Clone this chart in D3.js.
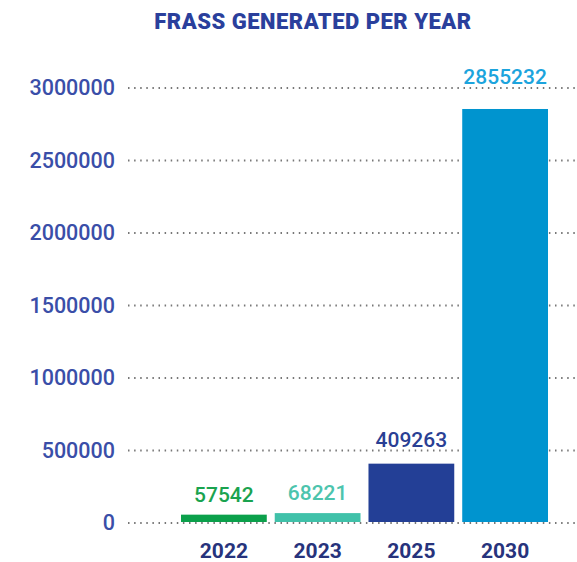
<!DOCTYPE html>
<html>
<head>
<meta charset="utf-8">
<script src="https://cdn.jsdelivr.net/npm/d3@7"></script>
<style>
  body { margin: 0; background: #ffffff; }
  text { font-family: Roboto, "Noto Sans", sans-serif; }
</style>
</head>
<body>
<div id="chart"></div>
<script>
// Data
var years = ["2022", "2023", "2025", "2030"];
var frass = [57542, 68221, 409263, 2855232];
var barColors = ["#0ba04b", "#40c1a9", "#233f96", "#0094cf"];
var labelColors = ["#1aa34f", "#4cc4ad", "#2a3f94", "#1ca4dd"];
var tickValues = [0, 500000, 1000000, 1500000, 2000000, 2500000, 3000000];

var svgWidth = 577;
var svgHeight = 562;

var svg = d3.select("#chart").append("svg")
  .attr("width", svgWidth)
  .attr("height", svgHeight);

// Scales
var xBandScale = d3.scaleBand()
  .domain(years)
  .range([181, 548])
  .paddingInner(0.085)
  .paddingOuter(0);

var yLinearScale = d3.scaleLinear()
  .domain([0, 3000000])
  .range([523, 88]);

// Title
svg.append("text")
  .attr("x", 313)
  .attr("y", 29)
  .attr("text-anchor", "middle")
  .style("font-size", "22px")
  .style("font-weight", 900)
  .style("letter-spacing", "0.5px")
  .style("fill", "#2a3f9c")
  .text("FRASS GENERATED PER YEAR");

// Dotted gridlines
svg.append("g")
  .selectAll("line")
  .data(tickValues)
  .enter()
  .append("line")
  .attr("x1", 128)
  .attr("x2", svgWidth)
  .attr("y1", d => yLinearScale(d))
  .attr("y2", d => yLinearScale(d))
  .attr("stroke", "#777")
  .attr("stroke-width", 2)
  .attr("stroke-dasharray", "1.5,4.6");

// Left axis labels
var leftAxis = d3.axisLeft(yLinearScale)
  .tickValues(tickValues)
  .tickFormat(d3.format("d"))
  .tickSize(0)
  .tickPadding(0);

var yAxisGroup = svg.append("g")
  .attr("transform", "translate(115, 0)")
  .call(leftAxis);
yAxisGroup.select(".domain").remove();
yAxisGroup.selectAll("text")
  .style("font-family", "Roboto, sans-serif")
  .style("font-size", "21.5px")
  .style("font-weight", 500)
  .style("fill", "#3a4ea8");

// Bars
svg.append("g")
  .selectAll("rect")
  .data(frass)
  .enter()
  .append("rect")
  .attr("x", (d, i) => xBandScale(years[i]))
  .attr("y", d => yLinearScale(d))
  .attr("width", xBandScale.bandwidth())
  .attr("height", d => yLinearScale(0) - 1 - yLinearScale(d))
  .attr("fill", (d, i) => barColors[i]);

// Value labels, lifted above a gridline when they would sit on it
function labelY(d) {
  var y = yLinearScale(d) - 13;
  tickValues.forEach(function(t) {
    var g = yLinearScale(t);
    if (g >= y - 15 && g <= y) y = g - 4;
  });
  return y;
}

svg.append("g")
  .selectAll("text")
  .data(frass)
  .enter()
  .append("text")
  .attr("x", (d, i) => xBandScale(years[i]) + xBandScale.bandwidth() / 2)
  .attr("y", labelY)
  .attr("text-anchor", "middle")
  .style("font-size", "21px")
  .style("font-weight", 500)
  .style("fill", (d, i) => labelColors[i])
  .text(d => d);

// Bottom axis labels
var bottomAxis = d3.axisBottom(xBandScale).tickSize(0).tickPadding(0);
var xAxisGroup = svg.append("g")
  .attr("transform", "translate(0, 558)")
  .call(bottomAxis);
xAxisGroup.select(".domain").remove();
xAxisGroup.selectAll("text")
  .attr("dy", "0")
  .style("font-family", "Roboto, sans-serif")
  .style("font-size", "21px")
  .style("font-weight", 700)
  .style("fill", "#27337c");
</script>
</body>
</html>
